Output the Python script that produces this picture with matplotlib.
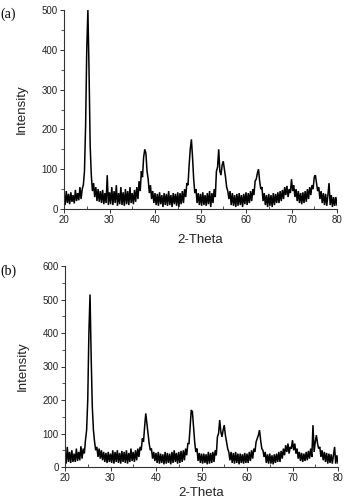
import numpy as np
import matplotlib
matplotlib.use("Agg")
import matplotlib.pyplot as plt
from matplotlib.ticker import MultipleLocator

# Intensity sampled every 0.25 deg from 20.0 to 80.0 (first value at 20.0, then 4 per degree)
intensity_a = [25,
    10, 45, 15, 38,   12, 42, 18, 35,   14, 48, 20, 40,   22, 55, 25, 50,
    60, 95, 210, 400, 500, 350, 160, 85, 45, 65, 30, 55,  20, 50, 18, 45,
    15, 48, 12, 40,   15, 85, 10, 42,   12, 55, 10, 45,   15, 60, 8, 40,
    12, 55, 10, 42,   8, 50, 12, 45,    10, 55, 15, 40,   12, 48, 18, 55,
    25, 70, 45, 95,   80, 130, 150, 140, 95, 75, 40, 60,  25, 45, 15, 40,
    10, 38, 8, 42,    12, 35, 5, 40,    10, 38, 8, 45,    10, 35, 5, 40,
    12, 38, 8, 42,    5, 40, 12, 45,    15, 50, 30, 65,   60, 110, 150, 175,
    130, 75, 40, 50,  15, 40, 10, 38,   8, 42, 10, 35,    8, 40, 12, 45,
    5, 40, 15, 50,    30, 95, 105, 150, 95, 85, 110, 120, 100, 80, 55, 45,
    25, 45, 10, 40,   8, 35, 5, 38,    8, 40, 10, 35,    5, 38, 12, 42,
    10, 40, 15, 45,   20, 50, 35, 70,   75, 90, 100, 70,  50, 55, 20, 40,
    10, 35, 5, 38,    8, 35, 5, 40,     10, 38, 15, 42,   15, 45, 20, 48,
    25, 55, 35, 58,   30, 50, 40, 75,   45, 60, 30, 50,   20, 45, 15, 40,
    12, 42, 15, 45,   18, 50, 25, 55,   35, 60, 50, 80,   85, 65, 45, 55,
    25, 45, 15, 40,   10, 38, 8, 35,    65, 10, 35, 5,    30, 8, 30, 10]

intensity_b = [30,
    10, 60, 15, 45,   12, 50, 15, 40,   15, 55, 18, 45,   20, 62, 25, 55,
    40, 80, 110, 200, 400, 515, 330, 180, 110, 75, 50, 60, 30, 55, 25, 50,
    20, 45, 15, 42,   12, 45, 15, 40,   12, 50, 10, 45,   15, 50, 12, 42,
    10, 48, 15, 45,   12, 50, 10, 42,   15, 55, 18, 45,   15, 50, 20, 55,
    30, 60, 50, 85,   75, 120, 160, 130, 100, 70, 50, 55, 25, 45, 18, 42,
    12, 45, 10, 40,   12, 38, 8, 45,    10, 42, 12, 40,   8, 45, 12, 50,
    15, 42, 10, 45,   12, 48, 15, 50,   20, 55, 35, 70,   70, 120, 170, 165,
    120, 75, 45, 55,  18, 42, 12, 40,   10, 40, 12, 38,   8, 45, 10, 42,
    12, 45, 15, 50,   35, 90, 100, 140, 105, 90, 110, 125, 95, 75, 55, 45,
    20, 45, 12, 42,   10, 45, 12, 40,   8, 40, 12, 38,   10, 42, 12, 40,
    12, 45, 18, 50,   25, 55, 45, 75,   85, 95, 110, 80,  55, 50, 30, 45,
    12, 38, 10, 40,   10, 35, 8, 38,    12, 40, 15, 45,   15, 48, 25, 55,
    35, 65, 45, 70,   40, 60, 55, 80,   50, 70, 40, 55,   25, 45, 18, 42,
    15, 40, 18, 45,   20, 48, 25, 55,   30, 125, 45, 75,  95, 70, 55, 60,
    30, 50, 20, 45,   15, 42, 10, 40,   12, 38, 10, 35,   60, 10, 35, 12]

x_start, x_step = 20.0, 0.25
xticks = [20, 30, 40, 50, 60, 70, 80]
yticks_a = [0, 100, 200, 300, 400, 500]
yticks_b = [0, 100, 200, 300, 400, 500, 600]

plt.rcParams['font.family'] = ['Liberation Sans', 'DejaVu Sans']

fig = plt.figure(figsize=(3.46, 4.99), dpi=100)
W, H = 346, 499

def make_ax(l, r, t, b):
    return fig.add_axes([l / W, 1 - b / H, (r - l) / W, (b - t) / H])

axA = make_ax(64, 337, 10, 209)
axB = make_ax(65, 338, 266, 467)

for ax, y, yt, lp in [(axA, intensity_a, yticks_a, 6), (axB, intensity_b, yticks_b, 3)]:
    x = x_start + x_step * np.arange(len(y))
    ax.plot(x, y, color='black', lw=1.1, solid_joinstyle='miter')
    ax.set_xlim(20, 80)
    ax.set_ylim(yt[0], yt[-1])
    ax.set_xticks(xticks)
    ax.set_yticks(yt)
    ax.xaxis.set_minor_locator(MultipleLocator(5))
    ax.yaxis.set_minor_locator(MultipleLocator(50))
    for s in ['top', 'right']:
        ax.spines[s].set_visible(False)
    for s in ['left', 'bottom']:
        ax.spines[s].set_linewidth(0.8)
        ax.spines[s].set_color('#333333')
    ax.tick_params(axis='both', which='major', labelsize=7, length=3, width=0.7, pad=1.5,
                   colors='#333333', labelcolor='#222222')
    ax.tick_params(axis='y', which='minor', length=2, width=0.6, direction='out', colors='#333333')
    ax.tick_params(axis='x', which='minor', length=2, width=0.6, direction='in', colors='#333333')
    ax.set_ylabel('Intensity', fontsize=9.5, labelpad=10, color='#222222')
    ax.set_xlabel('2-Theta', fontsize=9.5, labelpad=lp, color='#222222')

fig.text(0.0 / W, 1 - 14 / H, '(a)', family='Liberation Serif', fontsize=10, va='center', ha='left')
fig.text(0.0 / W, 1 - 271 / H, '(b)', family='Liberation Serif', fontsize=10, va='center', ha='left')

fig.savefig('out.png', dpi=100)
